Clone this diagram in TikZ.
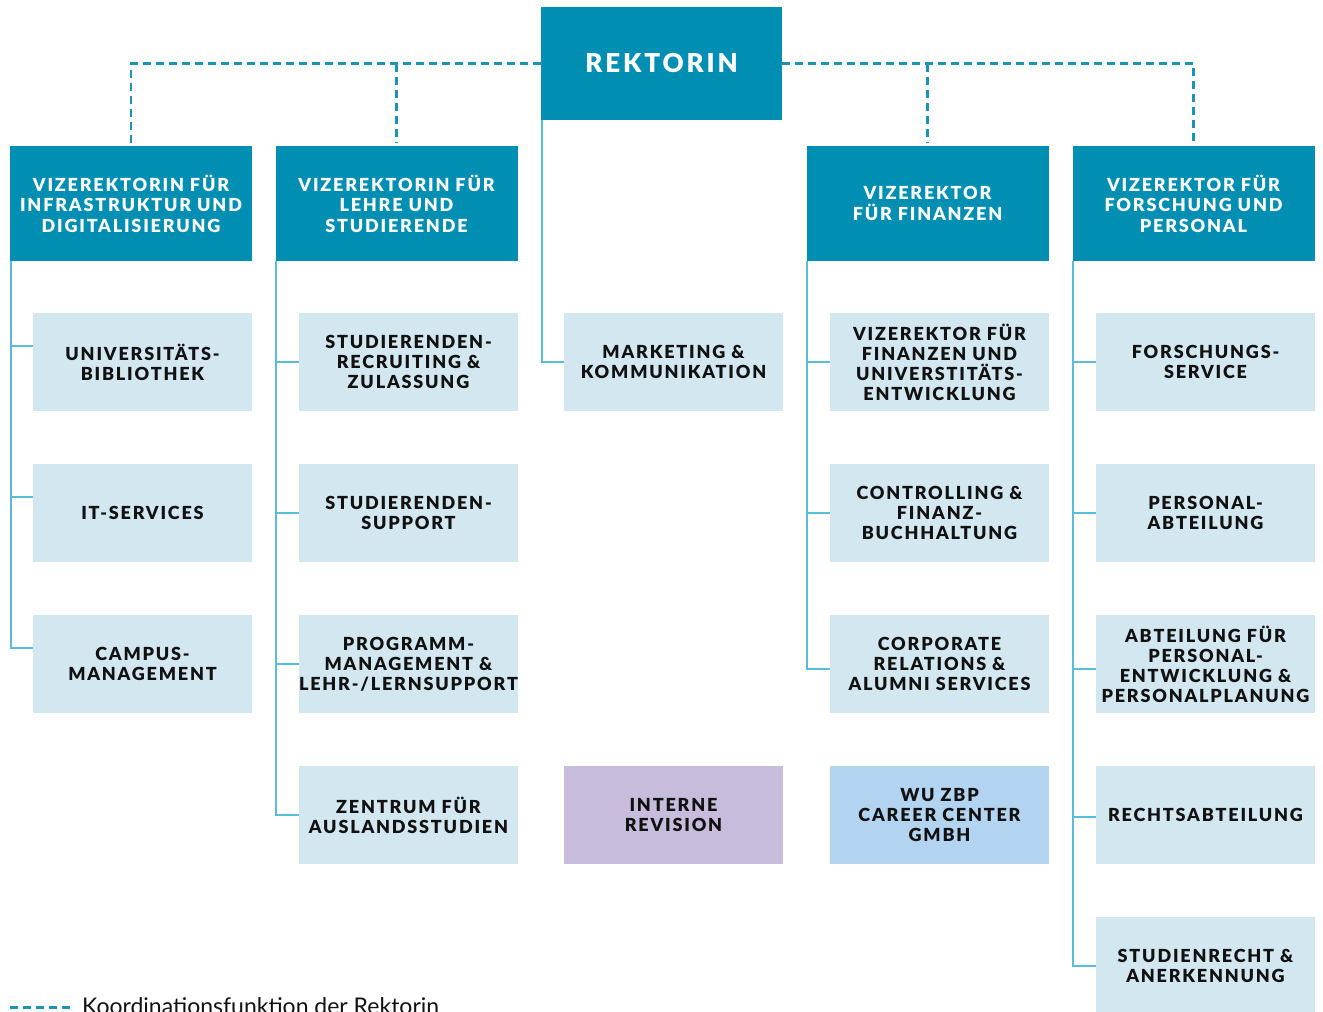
\documentclass[tikz,border=0pt]{standalone}
\usepackage{fontspec}
\setmainfont{Lato}
\newfontfamily\boxfont{Lato Black}[LetterSpace=10]
\newfontfamily\rekfont{Lato Black}[LetterSpace=11]
\definecolor{teal}{HTML}{008EB3}
\definecolor{lightbox}{HTML}{D2E7F0}
\definecolor{lav}{HTML}{C8BCDD}
\definecolor{skyb}{HTML}{B3D4F1}
\definecolor{treeline}{HTML}{5BBCD8}
\definecolor{dashc}{HTML}{1C93B4}
\definecolor{ink}{HTML}{111111}
\begin{document}
\begin{tikzpicture}[x=1pt,y=-1pt,
  head/.style={rectangle, fill=teal, minimum width=242pt, minimum height=115pt, inner sep=0pt,
    align=center, text=white, font=\boxfont\fontsize{18}{20.5}\selectfont},
  sub/.style={rectangle, fill=lightbox, minimum width=219pt, minimum height=98pt, inner sep=0pt,
    align=center, text=ink, font=\boxfont\fontsize{18}{20}\selectfont},
  tree/.style={draw=treeline, line width=2pt},
  coord/.style={draw=dashc, line width=2.6pt, dash pattern=on 8pt off 5pt}]
\useasboundingbox (0,0) rectangle (1323,1012);
% top
\node[head, minimum width=241pt, minimum height=113pt, font=\rekfont\fontsize{26}{30}\selectfont] (rek) at (661.5,63.5) {REKTORIN};
\node[head] (h1) at (131,203.5) {VIZEREKTORIN FÜR\\INFRASTRUKTUR UND\\DIGITALISIERUNG};
\node[head] (h2) at (396.5,203.5) {VIZEREKTORIN FÜR\\LEHRE UND\\STUDIERENDE};
\node[head] (h4) at (927.5,203.5) {VIZEREKTOR\\FÜR FINANZEN};
\node[head] (h5) at (1193.5,203.5) {VIZEREKTOR FÜR\\FORSCHUNG UND\\PERSONAL};
% column 1
\node[sub] (s11) at (142.5,362) {UNIVERSITÄTS-\\BIBLIOTHEK};
\node[sub] (s12) at (142.5,513) {IT-SERVICES};
\node[sub] (s13) at (142.5,664) {CAMPUS-\\MANAGEMENT};
% column 2
\node[sub] (s21) at (408.5,362) {STUDIERENDEN-\\RECRUITING \&\\ZULASSUNG};
\node[sub] (s22) at (408.5,513) {STUDIERENDEN-\\SUPPORT};
\node[sub] (s23) at (408.5,664) {PROGRAMM-\\MANAGEMENT \&\\LEHR-/LERNSUPPORT};
\node[sub] (s24) at (408.5,815) {ZENTRUM FÜR\\AUSLANDSSTUDIEN};
% column 3
\node[sub] (s31) at (673.5,362) {MARKETING \&\\KOMMUNIKATION};
\node[sub, fill=lav] (s34) at (673.5,815) {INTERNE\\REVISION};
% column 4
\node[sub] (s41) at (939.5,362) {VIZEREKTOR FÜR\\FINANZEN UND\\UNIVERSTITÄTS-\\ENTWICKLUNG};
\node[sub] (s42) at (939.5,513) {CONTROLLING \&\\FINANZ-\\BUCHHALTUNG};
\node[sub] (s43) at (939.5,664) {CORPORATE\\RELATIONS \&\\ALUMNI SERVICES};
\node[sub, fill=skyb] (s44) at (939.5,815) {WU ZBP\\CAREER CENTER\\GMBH};
% column 5
\node[sub] (s51) at (1205.5,362) {FORSCHUNGS-\\SERVICE};
\node[sub] (s52) at (1205.5,513) {PERSONAL-\\ABTEILUNG};
\node[sub] (s53) at (1205.5,664) {ABTEILUNG FÜR\\PERSONAL-\\ENTWICKLUNG \&\\PERSONALPLANUNG};
\node[sub] (s54) at (1205.5,815) {RECHTSABTEILUNG};
\node[sub] (s55) at (1205.5,966) {STUDIENRECHT \&\\ANERKENNUNG};
% trunk coordinates
\coordinate (c1) at ([xshift=1pt]h1.south west);
\coordinate (c2) at ([xshift=1pt]h2.south west);
\coordinate (c3) at ([xshift=1pt]rek.south west);
\coordinate (c4) at ([xshift=1pt]h4.south west);
\coordinate (c5) at ([xshift=1pt]h5.south west);
% tree lines
\draw[tree] (c1) |- ([yshift=16pt]s13.west);
\draw[tree] ([yshift=16pt]s11.west) -- ([yshift=16pt]s11.west -| c1);
\draw[tree] ([yshift=16pt]s12.west) -- ([yshift=16pt]s12.west -| c1);
\draw[tree] (c2) |- (s24.west);
\foreach \n in {s21,s22,s23} \draw[tree] (\n.west) -- (\n.west -| c2);
\draw[tree] (c3) |- (s31.west);
\draw[tree] (c4) |- ([yshift=-5pt]s43.west);
\foreach \n in {s41,s42} \draw[tree] (\n.west) -- (\n.west -| c4);
\draw[tree] (c5) |- (s55.west);
\draw[tree] (s51.west) -- (s51.west -| c5);
\draw[tree] (s52.west) -- (s52.west -| c5);
\draw[tree] ([yshift=-5pt]s53.west) -- ([yshift=-5pt]s53.west -| c5);
\draw[tree] ([yshift=-2pt]s54.west) -- ([yshift=-2pt]s54.west -| c5);
% coordination (dashed)
\draw[coord] (rek.west) -- (rek.west -| h1.north) -- ([yshift=3pt]h1.north);
\draw[coord] (rek.west -| h2.north) -- ([yshift=3pt]h2.north);
\draw[coord] (rek.east) -- (rek.east -| h5.north) -- ([yshift=3pt]h5.north);
\draw[coord] (rek.east -| h4.north) -- ([yshift=3pt]h4.north);
% legend
\node[anchor=base west, inner sep=0pt, font=\fontsize{23}{26}\selectfont, text=ink] (lg) at (82,1014) {Koordinationsfunktion der Rektorin};
\draw[coord] ([xshift=-12pt,yshift=-2pt]lg.west) -- ++(-60pt,0);
\end{tikzpicture}
\end{document}
